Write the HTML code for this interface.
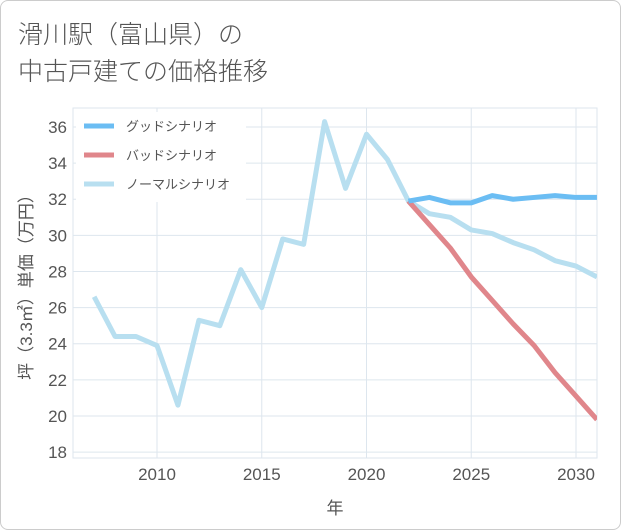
<!DOCTYPE html>
<html><head><meta charset="utf-8"><style>
body{margin:0;background:#fff;font-family:"Liberation Sans","Noto Sans CJK JP",sans-serif}
#wrap{position:relative;width:619px;height:528px;border:1px solid #ccc;border-radius:8px;overflow:hidden}
.title{position:absolute;left:17px;font-size:25px;color:#555;font-weight:300}
</style></head><body>
<div id="wrap">
<div class="title" style="top:14px">滑川駅（富山県）の</div>
<div class="title" style="top:51px">中古戸建ての価格推移</div>
<svg id="svg" width="621" height="530" style="position:absolute;left:-1px;top:-1px"></svg>
</div>
<script>
const years=[2007,2008,2009,2010,2011,2012,2013,2014,2015,2016,2017,2018,2019,2020,2021,2022,2023,2024,2025,2026,2027,2028,2029,2030,2031];
const normal=[26.6,24.4,24.4,23.9,20.6,25.3,25.0,28.1,26.0,29.8,29.5,36.3,32.6,35.6,34.2,31.9,31.2,31.0,30.3,30.1,29.6,29.2,28.6,28.3,27.7];
const futureYears=[2022,2023,2024,2025,2026,2027,2028,2029,2030,2031];
const good=[31.9,32.1,31.8,31.8,32.2,32.0,32.1,32.2,32.1,32.1];
const bad=[31.9,30.6,29.3,27.7,26.4,25.1,23.9,22.4,21.1,19.8];
const xTicks=[2010,2015,2020,2025,2030];
const yTicks=[18,20,22,24,26,28,30,32,34,36];
const legendLabels=["グッドシナリオ","バッドシナリオ","ノーマルシナリオ"];
const colors=["#6bbdf3","#e0868b","#b8dff0"];
const L=73,R=597,T=108,B=458;
const x=v=>157+(v-2010)*20.95;
const y=v=>127+(36-v)*18.06;
const svg=document.getElementById('svg');
const NS='http://www.w3.org/2000/svg';
function mk(t,a){const e=document.createElementNS(NS,t);for(const k in a)e.setAttribute(k,a[k]);svg.appendChild(e);return e;}
for(const t of yTicks){const g=mk('line',{x1:L,x2:R,y1:y(t),y2:y(t),stroke:'#dde6ee'});


const tx=mk('text',{x:L-6,y:y(t)+6,'text-anchor':'end','font-size':17,fill:'#555'});tx.textContent=t;

}
for(const t of xTicks){const g=mk('line',{x1:x(t),x2:x(t),y1:T,y2:B,stroke:'#dde6ee'});


const tx=mk('text',{x:x(t),y:B+22,'text-anchor':'middle','font-size':17,fill:'#555'});tx.textContent=t;

}
const fr=mk('rect',{x:L,y:T,width:R-L,height:B-T,fill:'none',stroke:'#dde6ee'});


function line(xs,ys,c,name){const p=mk('polyline',{points:xs.map((v,i)=>x(v)+','+y(ys[i])).join(' '),fill:'none',stroke:c,'stroke-width':5,'stroke-linejoin':'round','clip-path':'url(#clip)'});

}
const cp=mk('clipPath',{id:'clip'});const cr=document.createElementNS(NS,'rect');cr.setAttribute('x',L);cr.setAttribute('y',T);cr.setAttribute('width',R-L);cr.setAttribute('height',B-T);cp.appendChild(cr);
line(years,normal,colors[2],'normal-scenario-line');
line(futureYears,bad,colors[1],'bad-scenario-line');
line(futureYears,good,colors[0],'good-scenario-line');
const lb=mk('rect',{x:76,y:112,width:170,height:90,fill:'#fff'});


legendLabels.forEach((s,i)=>{const yy=126+i*29;
const l=mk('line',{x1:84,x2:114,y1:yy,y2:yy,stroke:colors[i],'stroke-width':5});


const t=mk('text',{x:126,y:yy+5,'font-size':13,fill:'#555'});t.textContent=s;

});
const xt=mk('text',{x:335,y:514,'text-anchor':'middle','font-size':17,fill:'#555'});xt.textContent='年';


const yt=mk('text',{x:0,y:0,'text-anchor':'middle','font-size':17,fill:'#555',transform:'translate(32,283) rotate(-90)'});yt.textContent='坪（3.3㎡）単価（万円）';


</script>
</body></html>
